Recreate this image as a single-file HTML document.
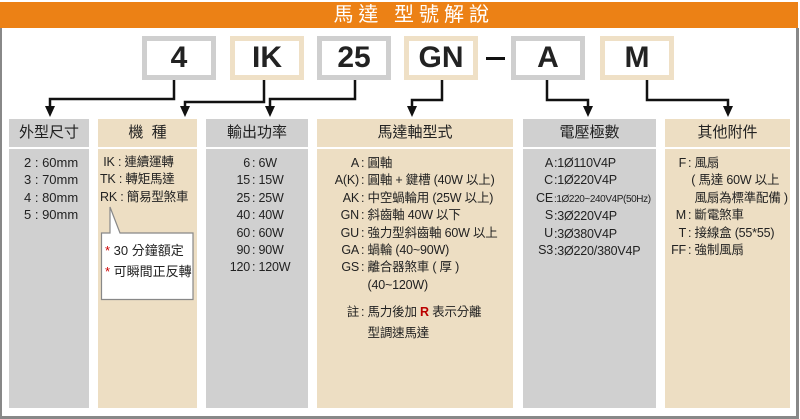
<!DOCTYPE html>
<html><head><meta charset="utf-8"><style>
*{margin:0;padding:0;box-sizing:border-box}
body{width:800px;height:419px;background:#fff;position:relative;overflow:hidden;font-family:"Liberation Sans","Noto Sans CJK TC",sans-serif;color:#222}
.a{position:absolute}
.top{left:0;top:2px;width:798px;height:26px;background:#ec8115;color:#fff;font-size:20px;line-height:26px;text-align:right;padding-right:304px;letter-spacing:5px}
.frame{left:0;top:28px;width:799px;height:391px;border-left:2px solid #888;border-right:3px solid #888;border-bottom:3px solid #888}
.box{top:36px;width:74px;height:44px;border:5px solid #cfcfcf;background:#fff;font-weight:bold;font-size:30px;text-align:center;line-height:34px}
.bg{border-color:#efe0c6}
.h{top:119px;height:28px;font-size:15px;text-align:center;line-height:28px}
.b{top:149px;height:259px;font-size:12.5px;line-height:17.4px;display:flex;align-items:flex-start;white-space:nowrap;letter-spacing:-0.2px}
.g{background:#d0d0d0}.y{background:#eddec3}
.b>div{flex:none}
</style></head><body>
<div class="a top">馬達 型號解說</div>
<div class="a frame"></div>
<div class="a box" style="left:142px">4</div>
<div class="a box bg" style="left:230px">IK</div>
<div class="a box" style="left:317px">25</div>
<div class="a box bg" style="left:404px">GN</div>
<div class="a" style="left:486px;top:57px;width:19px;height:3px;background:#111"></div>
<div class="a box" style="left:511px">A</div>
<div class="a box bg" style="left:600px">M</div>
<svg class="a" style="left:0;top:0" width="800" height="120">
<g fill="none" stroke="#111" stroke-width="2.5">
<polyline points="174,80 174,99 50,99 50,110"/>
<polyline points="264,80 264,102 185,102 185,110"/>
<polyline points="355,80 355,99 270,99 270,110"/>
<polyline points="442,80 442,100 412,100 412,110"/>
<polyline points="547,80 547,100 588,100 588,110"/>
<polyline points="647,80 647,100 728,100 728,110"/>
</g>
<g fill="#111">
<polygon points="45,106 55,106 50,117"/><polygon points="180,106 190,106 185,117"/><polygon points="265,106 275,106 270,117"/>
<polygon points="407,106 417,106 412,117"/><polygon points="583,106 593,106 588,117"/><polygon points="723,106 733,106 728,117"/>
</g></svg>
<div class="a h g" style="left:9px;width:80px">外型尺寸</div>
<div class="a h y" style="left:98px;width:99px">機&nbsp;&nbsp;種</div>
<div class="a h g" style="left:206px;width:102px">輸出功率</div>
<div class="a h y" style="left:317px;width:196px">馬達軸型式</div>
<div class="a h g" style="left:523px;width:133px">電壓極數</div>
<div class="a h y" style="left:665px;width:125px">其他附件</div>

<div class="a b g" style="left:9px;width:80px;padding:5px 0 0 15px;font-size:13px;letter-spacing:0"><div>2 : 60mm<br>3 : 70mm<br>4 : 80mm<br>5 : 90mm</div></div>
<div class="a b y" style="left:98px;width:99px;padding:5px 0 0 2px"><div>&nbsp;IK : 連續運轉<br>TK : 轉矩馬達<br>RK : 簡易型煞車</div></div>
<svg class="a" style="left:100px;top:205px" width="96" height="97"><path d="M1.5,28 H10 L10,2 L20,28 H93 V94.5 H1.5 Z" fill="#fff" stroke="#888" stroke-width="1.2"/></svg>
<div class="a" style="left:105px;top:240px;font-size:13px;line-height:21px"><span style="color:#c00">*</span> 30 分鐘額定<br><span style="color:#c00">*</span> 可瞬間正反轉</div>
<div class="a b g" style="left:206px;width:102px;padding-top:6px"><div style="width:44px;text-align:right">6<br>15<br>25<br>40<br>60<br>90<br>120</div><div style="padding-left:2px">: 6W<br>: 15W<br>: 25W<br>: 40W<br>: 60W<br>: 90W<br>: 120W</div></div>
<div class="a b y" style="left:317px;width:196px;padding-top:6px"><div style="width:42px;text-align:right">A<br>A(K)<br>AK<br>GN<br>GU<br>GA<br>GS<br><br><span style="line-height:25px;display:inline-block;padding-top:6px">註</span></div><div style="padding-left:2px">: 圓軸<br>: 圓軸 + 鍵槽 (40W 以上)<br>: 中空蝸輪用 (25W 以上)<br>: 斜齒軸 40W 以下<br>: 強力型斜齒軸 60W 以上<br>: 蝸輪 (40~90W)<br>: 離合器煞車 ( 厚 )<br>&nbsp; (40~120W)<br><span style="line-height:25px;display:inline-block;padding-top:6px">: 馬力後加 <b style="color:#b00">R</b> 表示分離</span><br>&nbsp; 型調速馬達</div></div>
<div class="a b g" style="left:523px;width:133px;padding-top:6px"><div style="width:30px;text-align:right">A<br>C<br>CE<br>S<br>U<br>S3</div><div style="padding-left:1px">:1Ø110V4P<br>:1Ø220V4P<br><span style="font-size:10px;letter-spacing:-0.4px">:1Ø220~240V4P(50Hz)</span><br>:3Ø220V4P<br>:3Ø380V4P<br>:3Ø220/380V4P</div></div>
<div class="a b y" style="left:665px;width:125px;padding-top:6px"><div style="width:21px;text-align:right">F<br><br><br>M<br>T<br>FF</div><div style="padding-left:2px">: 風扇<br>&nbsp;( 馬達 60W 以上<br>&nbsp;&nbsp;風扇為標準配備 )<br>: 斷電煞車<br>: 接線盒 (55*55)<br>: 強制風扇</div></div>
</body></html>
